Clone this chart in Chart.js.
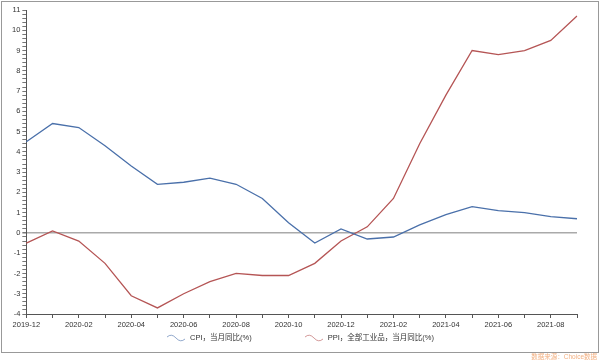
<!DOCTYPE html>
<html>
<head>
<meta charset="utf-8">
<script src="https://cdn.jsdelivr.net/npm/chart.js@4/dist/chart.umd.min.js"></script>
<style>
  body { margin: 0; background: #fff; font-family: "Liberation Sans", "Noto Sans CJK SC", sans-serif; }
  #box { position: absolute; left: 1px; top: 1px; width: 596px; height: 350px; border: 1px solid #999; }
  #box canvas { position: absolute; left: 0; top: 0; }
  #legend { position: absolute; left: 0; top: 329px; width: 596px; text-align: center; font-size: 7.5px; color: #333; }
  #legend span.item { display: inline-block; margin: 0 26px; vertical-align: middle; }
  #legend svg { vertical-align: middle; margin-right: 5px; }
  #source { position: absolute; right: 3px; top: 351px; font-size: 6.5px; color: #f3b183; }
</style>
</head>
<body>
<div id="box">
  <canvas id="cpiChart" width="596" height="350"></canvas>
  <div id="legend"></div>
</div>
<div id="source">数据来源：Choice数据</div>
<script>
// months 2019-12 .. 2021-09
const months = ['2019-12','2020-01','2020-02','2020-03','2020-04','2020-05','2020-06','2020-07','2020-08','2020-09','2020-10','2020-11',
                '2020-12','2021-01','2021-02','2021-03','2021-04','2021-05','2021-06','2021-07','2021-08','2021-09'];
const cpiValues = [4.5, 5.4, 5.2, 4.3, 3.3, 2.4, 2.5, 2.7, 2.4, 1.7, 0.5, -0.5,
                   0.2, -0.3, -0.2, 0.4, 0.9, 1.3, 1.1, 1.0, 0.8, 0.7];
const ppiValues = [-0.5, 0.1, -0.4, -1.5, -3.1, -3.7, -3.0, -2.4, -2.0, -2.1, -2.1, -1.5,
                   -0.4, 0.3, 1.7, 4.4, 6.8, 9.0, 8.8, 9.0, 9.5, 10.7];
const seriesNames = ['CPI，当月同比(%)', 'PPI，全部工业品，当月同比(%)'];
const seriesColors = ['#4a70aa', '#b55555'];
const yMin = -4, yMax = 11;

let ctx = document.getElementById('cpiChart').getContext('2d');
let chart = new Chart(ctx, {
    type: 'line',
    data: {
        labels: months,
        datasets: [{
            label: seriesNames[0],
            data: cpiValues,
            borderColor: seriesColors[0],
            borderWidth: 1.3,
            pointRadius: 0,
            tension: 0
        }, {
            label: seriesNames[1],
            data: ppiValues,
            borderColor: seriesColors[1],
            borderWidth: 1.3,
            pointRadius: 0,
            tension: 0
        }]
    },
    options: {
        responsive: false,
        animation: false,
        layout: { padding: { top: 8, right: 21, bottom: 21, left: 8 } },
        plugins: {
            legend: { display: false },
            tooltip: { enabled: false }
        },
        scales: {
            x: {
                offset: false,
                border: { color: '#555', width: 1 },
                grid: { drawOnChartArea: false, tickLength: 4, color: '#555' },
                ticks: {
                    autoSkip: false,
                    maxRotation: 0,
                    padding: 2,
                    color: '#333',
                    font: { size: 7.5, family: 'Liberation Sans' },
                    callback: function(val, i) { return i % 2 === 0 ? months[i] : ''; }
                }
            },
            y: {
                min: yMin,
                max: yMax,
                border: { color: '#555', width: 1 },
                grid: {
                    drawOnChartArea: true,
                    tickLength: 4,
                    color: function(c) { return c.tick && Math.abs(c.tick.value) < 1e-6 ? '#aaa' : 'rgba(0,0,0,0)'; },
                    lineWidth: function(c) { return c.tick && Math.abs(c.tick.value) < 1e-6 ? 1.5 : 1; },
                    tickColor: '#777'
                },
                ticks: {
                    stepSize: 0.2,
                    autoSkip: false,
                    padding: 2,
                    color: '#333',
                    font: { size: 7.5, family: 'Liberation Sans' },
                    callback: function(v) {
                        let r = Math.round(v);
                        return Math.abs(v - r) < 1e-6 ? String(r) : '';
                    }
                }
            }
        }
    }
});

// html legend with wavy icons
let legendHtml = '';
chart.data.datasets.forEach(ds => {
    legendHtml += '<span class="item"><svg width="19" height="8"><path d="M1 3 Q5.5 -1 10 4 T19 5" fill="none" stroke="' +
        ds.borderColor + '" stroke-opacity="0.6" stroke-width="1"/></svg>' + ds.label + '</span>';
});
document.getElementById('legend').innerHTML = legendHtml;
</script>
</body>
</html>
